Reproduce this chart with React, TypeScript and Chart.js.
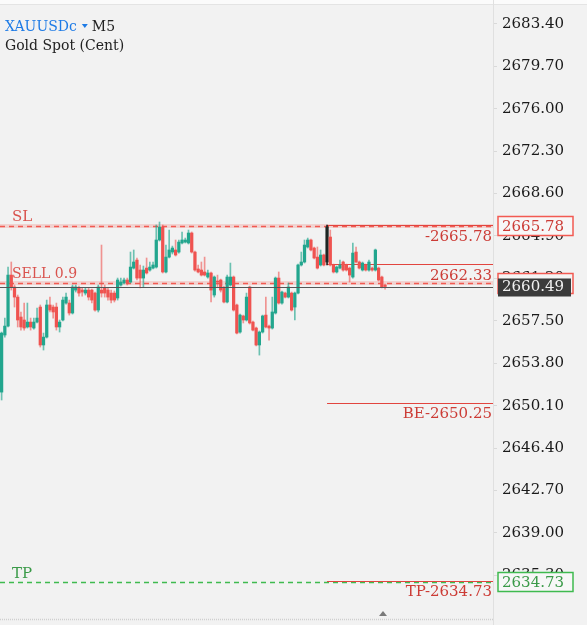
import React, { useEffect, useRef } from "react";
import { Chart, registerables } from "chart.js";
Chart.register(...registerables);

// ---- data ----
const SYMBOL = "XAUUSDc";
const TIMEFRAME = "M5";
const DESCRIPTION = "Gold Spot (Cent)";

const opens = [
  2651.28, 2656.26, 2657.04, 2661.49, 2660.45, 2659.57, 2657.83, 2657.57, 2656.96, 2657.39,
  2656.87, 2657.39, 2658.70, 2655.39, 2656.08, 2658.88, 2658.70, 2658.70, 2656.96, 2657.57,
  2659.05, 2659.05, 2658.18, 2660.18, 2660.36, 2660.18, 2659.92, 2660.18, 2660.18, 2659.92,
  2658.44, 2660.18, 2660.36, 2660.18, 2659.92, 2659.92, 2659.49, 2660.62, 2660.80, 2661.06,
  2660.88, 2662.10, 2662.80, 2661.93, 2661.23, 2662.10, 2661.93, 2662.10, 2662.19, 2664.55,
  2665.68, 2661.76, 2663.06, 2663.50, 2663.68, 2663.50, 2664.29, 2664.37, 2664.29, 2665.16,
  2663.50, 2662.02, 2661.93, 2661.76, 2661.32, 2661.67, 2659.75, 2660.97, 2661.06, 2660.36,
  2659.14, 2660.62, 2661.32, 2658.88, 2656.52, 2657.92, 2657.57, 2660.45, 2657.39, 2656.87,
  2655.39, 2656.52, 2658.00, 2657.04, 2656.87, 2658.18, 2661.23, 2659.05, 2659.92, 2659.57,
  2659.92, 2658.70, 2659.92, 2662.37, 2662.63, 2663.94, 2664.55, 2663.85, 2663.06, 2662.37,
  2663.24, 2662.63, 2664.81, 2662.37, 2661.76, 2662.10, 2662.63, 2662.37, 2662.10,
  2661.32, 2663.50, 2662.63, 2661.93, 2662.37, 2661.93, 2662.10, 2661.93, 2662.10,
  2661.32, 2660.62,
];
const closes = [
  2656.43, 2657.04, 2661.49, 2660.45, 2659.57, 2657.57, 2656.96, 2656.87, 2657.39, 2656.96,
  2657.39, 2657.74, 2655.39, 2656.08, 2658.88, 2658.44, 2658.27, 2656.96, 2657.39, 2659.31,
  2659.57, 2658.18, 2660.45, 2660.45, 2659.92, 2660.01, 2660.18, 2659.57, 2659.31, 2658.44,
  2660.45, 2659.92, 2659.92, 2659.57, 2659.31, 2659.31, 2661.06, 2660.88, 2661.06, 2660.80,
  2662.19, 2662.63, 2661.23, 2661.23, 2661.93, 2661.67, 2662.19, 2662.37, 2664.55, 2665.68,
  2661.76, 2663.06, 2663.68, 2663.85, 2663.24, 2664.37, 2664.55, 2664.55, 2665.16, 2663.50,
  2661.93, 2661.76, 2661.49, 2661.49, 2661.67, 2660.18, 2661.32, 2660.88, 2660.18, 2659.14,
  2661.32, 2661.32, 2658.44, 2656.43, 2658.00, 2657.57, 2659.57, 2657.31, 2656.69, 2655.39,
  2656.52, 2657.92, 2656.96, 2656.87, 2658.27, 2661.23, 2659.05, 2660.01, 2659.57, 2660.45,
  2658.44, 2659.92, 2662.37, 2662.63, 2664.11, 2664.55, 2663.68, 2662.98, 2662.10, 2663.24,
  2662.37, 2665.68, 2662.37, 2661.76, 2662.19, 2662.37, 2661.93, 2661.93, 2661.49,
  2663.41, 2662.63, 2662.10, 2662.54, 2661.93, 2662.63, 2661.93, 2663.68, 2661.06,
  2660.45, 2660.49,
];
const highs = [
  2656.52, 2657.74, 2662.19, 2662.63, 2660.62, 2659.75, 2658.27, 2659.05, 2659.05, 2657.74,
  2657.74, 2658.61, 2658.88, 2656.43, 2659.31, 2659.57, 2658.88, 2659.05, 2657.57, 2659.57,
  2659.92, 2659.31, 2660.62, 2660.62, 2660.53, 2660.36, 2660.36, 2660.36, 2660.27, 2660.01,
  2660.62, 2664.11, 2660.62, 2660.36, 2660.18, 2660.10, 2661.23, 2661.23, 2661.23, 2661.23,
  2663.50, 2663.68, 2662.98, 2662.37, 2662.28, 2662.98, 2662.63, 2662.63, 2665.86, 2666.12,
  2665.86, 2664.11, 2665.42, 2664.02, 2664.55, 2664.55, 2665.25, 2664.72, 2665.42, 2665.25,
  2663.59, 2662.37, 2662.63, 2663.06, 2661.93, 2661.76, 2661.41, 2661.49, 2661.14, 2660.53,
  2661.49, 2662.54, 2661.41, 2658.96, 2658.09, 2658.00, 2659.92, 2660.53, 2657.48, 2656.96,
  2656.61, 2658.00, 2659.57, 2657.13, 2659.57, 2661.32, 2661.76, 2660.10, 2660.01, 2660.80,
  2660.01, 2660.01, 2662.45, 2663.50, 2664.55, 2664.72, 2664.63, 2663.94, 2663.94, 2663.68,
  2663.33, 2665.86, 2665.42, 2662.45, 2662.28, 2662.80, 2662.72, 2662.45, 2662.19,
  2664.29, 2663.94, 2662.72, 2662.63, 2662.45, 2662.80, 2662.19, 2663.76, 2662.19,
  2661.41, 2660.71,
];
const lows = [
  2650.59, 2656.08, 2656.96, 2660.18, 2658.70, 2656.96, 2656.69, 2656.69, 2656.87, 2656.69,
  2656.78, 2657.31, 2655.21, 2654.95, 2656.00, 2658.27, 2657.74, 2656.69, 2656.52, 2657.48,
  2658.96, 2658.00, 2658.09, 2660.01, 2659.66, 2659.66, 2659.75, 2659.31, 2659.05, 2658.35,
  2658.27, 2659.57, 2659.57, 2659.31, 2659.05, 2659.14, 2659.31, 2660.53, 2660.71, 2660.62,
  2660.80, 2662.02, 2661.06, 2660.36, 2660.45, 2661.58, 2661.84, 2662.02, 2662.10, 2664.46,
  2661.67, 2661.67, 2662.98, 2663.33, 2663.15, 2663.41, 2664.20, 2664.29, 2664.20, 2663.41,
  2661.84, 2661.67, 2661.41, 2661.41, 2661.23, 2659.14, 2659.57, 2660.45, 2660.01, 2659.05,
  2659.05, 2660.53, 2658.35, 2656.35, 2656.43, 2657.31, 2657.48, 2657.22, 2656.61, 2655.30,
  2654.51, 2656.43, 2656.87, 2655.82, 2656.78, 2658.09, 2658.96, 2658.96, 2659.49, 2659.49,
  2658.35, 2657.57, 2659.84, 2662.28, 2662.54, 2663.85, 2663.59, 2662.89, 2662.02, 2662.28,
  2662.28, 2662.37, 2662.28, 2661.67, 2661.67, 2662.02, 2661.84, 2661.84, 2660.88,
  2661.23, 2662.54, 2662.02, 2661.84, 2661.84, 2661.84, 2661.84, 2661.84, 2660.97,
  2660.36, 2660.27,
];

// total bar slots on the time axis (candles + empty space on the right)
const SLOT_COUNT = 153;
const slotLabels = Array.from({ length: SLOT_COUNT }, (_, i) => String(i));

const yTicks = [
  2683.4, 2679.7, 2676.0, 2672.3, 2668.6, 2664.9, 2661.2, 2657.5, 2653.8,
  2650.1, 2646.4, 2642.7, 2639.0, 2635.3,
];
const Y_MIN = 2630.96;
const Y_MAX = 2685.49;

// trade levels
const TRADE_INDEX = 101; // candle where the position was opened (highlighted)
const SL = 2665.78;
const ENTRY = 2660.8;
const BID = 2660.49;
const PENDING = 2662.33;
const BE = 2650.25;
const TP = 2634.73;
const ENTRY_LABEL = "SELL 0.9";

// ---- styles ----
const BULL = "#22a68e";
const BEAR = "#ef5350";
const BULL_WICK = "rgba(34,166,142,0.65)";
const BEAR_WICK = "rgba(239,83,80,0.6)";
const DARK = "#1d2624";
const RED_LINE = "#f25a52";
const RED_TEXT = "#cc3c36";
const GREEN_LINE = "#3fba4f";
const GREEN_TEXT = "#3a9a48";
const SERIF = "'DejaVu Serif', serif";

const levelsPlugin = {
  id: "levels",
  beforeDraw(chart: any) {
    const { ctx, width, height } = chart;
    ctx.save();
    ctx.fillStyle = "#f2f2f2";
    ctx.fillRect(0, 0, width, height);
    ctx.fillStyle = "#fbfbfb";
    ctx.fillRect(0, 0, width, 4);
    ctx.fillStyle = "#e4e4e4";
    ctx.fillRect(0, 4, width, 1);
    ctx.restore();
  },
  beforeDatasetsDraw(chart: any) {
    const { ctx, chartArea, scales } = chart;
    const ys = scales.y;
    const xs = scales.x;
    const L = chartArea.left;
    const R = chartArea.right;
    const xt = xs.getPixelForValue(TRADE_INDEX);
    ctx.save();
    const band = (v: number, color: string) => {
      const y = Math.round(ys.getPixelForValue(v));
      ctx.fillStyle = color;
      ctx.fillRect(L, y - 2, R - L, 4);
    };
    const dashed = (v: number, color: string) => {
      const y = Math.round(ys.getPixelForValue(v)) + 0.5;
      ctx.strokeStyle = color;
      ctx.lineWidth = 1.5;
      ctx.setLineDash([5, 4]);
      ctx.beginPath();
      ctx.moveTo(L, y);
      ctx.lineTo(R, y);
      ctx.stroke();
      ctx.setLineDash([]);
    };
    band(SL, "rgba(242,90,82,0.2)");
    dashed(SL, RED_LINE);
    band(ENTRY, "rgba(242,90,82,0.2)");
    dashed(ENTRY, RED_LINE);
    dashed(TP, GREEN_LINE);
    ctx.strokeStyle = "#e2453f";
    ctx.lineWidth = 1;
    [SL, PENDING, BE, TP].forEach((v) => {
      const y = Math.round(ys.getPixelForValue(v)) - 0.5;
      ctx.beginPath();
      ctx.moveTo(xt, y);
      ctx.lineTo(R, y);
      ctx.stroke();
    });
    ctx.restore();
  },
  afterDatasetsDraw(chart: any) {
    const { ctx, chartArea, scales } = chart;
    const y = Math.round(scales.y.getPixelForValue(BID)) + 0.5;
    ctx.save();
    ctx.strokeStyle = "#555555";
    ctx.lineWidth = 1;
    ctx.beginPath();
    ctx.moveTo(chartArea.left, y);
    ctx.lineTo(chartArea.right, y);
    ctx.stroke();
    ctx.restore();
  },
  afterDraw(chart: any) {
    const { ctx, chartArea, scales } = chart;
    const ys = scales.y;
    const R = chartArea.right;
    const py = (v: number) => ys.getPixelForValue(v);
    ctx.save();

    // left labels
    ctx.textBaseline = "alphabetic";
    ctx.textAlign = "left";
    ctx.font = `15px ${SERIF}`;
    ctx.fillStyle = "#d9534e";
    ctx.fillText("SL", 12, py(SL) - 5);
    ctx.font = `14px ${SERIF}`;
    ctx.fillText(ENTRY_LABEL, 12, py(ENTRY) - 5);
    ctx.font = `15px ${SERIF}`;
    ctx.fillStyle = GREEN_TEXT;
    ctx.fillText("TP", 12, py(TP) - 4);

    // right-aligned labels under trade lines
    ctx.textAlign = "right";
    ctx.fillStyle = RED_TEXT;
    ctx.font = `15px ${SERIF}`;
    ctx.fillText("-" + SL.toFixed(2), R - 1, py(SL) + 15);
    ctx.fillText(PENDING.toFixed(2), R - 1, py(PENDING) + 15);
    ctx.fillText("BE-" + BE.toFixed(2), R - 1, py(BE) + 14);
    ctx.fillText("TP-" + TP.toFixed(2), R - 1, py(TP) + 14);

    // price boxes on the axis
    const box = (v: number, h: number, w: number, fill: string, stroke: string | null, text: string | null, color: string) => {
      const yc = py(v);
      const top = Math.round(yc - h / 2) + 0.5;
      ctx.fillStyle = fill;
      ctx.fillRect(R + 5, top, w, h);
      if (stroke) {
        ctx.strokeStyle = stroke;
        ctx.lineWidth = 1.5;
        ctx.strokeRect(R + 5, top, w, h);
      }
      if (text) {
        ctx.fillStyle = color;
        ctx.textAlign = "left";
        ctx.textBaseline = "middle";
        ctx.font = `15px ${SERIF}`;
        ctx.fillText(text, R + 9, yc + 1);
      }
    };
    box(SL, 19, 75, "#f7f7f7", RED_LINE, SL.toFixed(2), RED_TEXT);
    box(ENTRY, 20, 75, "#f4f4f4", RED_LINE, null, RED_TEXT);
    box(BID, 18, 73, "#3b3b3b", null, BID.toFixed(2), "#f0f0f0");
    box(TP, 19, 75, "#f7f7f7", GREEN_LINE, TP.toFixed(2), GREEN_TEXT);

    // symbol legend
    ctx.textAlign = "left";
    ctx.textBaseline = "alphabetic";
    ctx.font = `14px ${SERIF}`;
    ctx.fillStyle = "#1e7be6";
    ctx.fillText(SYMBOL, 5, 31);
    const w = ctx.measureText(SYMBOL).width;
    ctx.beginPath();
    ctx.moveTo(5 + w + 5, 24);
    ctx.lineTo(5 + w + 11, 24);
    ctx.lineTo(5 + w + 8, 28);
    ctx.closePath();
    ctx.fill();
    ctx.fillStyle = "#222";
    ctx.fillText(TIMEFRAME, 5 + w + 15, 31);
    ctx.fillText(DESCRIPTION, 5, 50);

    // bottom separator and scroll marker
    ctx.strokeStyle = "#cfcfcf";
    ctx.setLineDash([1, 1]);
    ctx.beginPath();
    ctx.moveTo(0, 619.5);
    ctx.lineTo(R, 619.5);
    ctx.stroke();
    ctx.setLineDash([]);
    ctx.fillStyle = "#7a7a7a";
    ctx.beginPath();
    ctx.moveTo(379, 616);
    ctx.lineTo(387, 616);
    ctx.lineTo(383, 611);
    ctx.closePath();
    ctx.fill();
    ctx.restore();
  },
};

export default function App() {
  const ref = useRef<HTMLCanvasElement>(null);
  useEffect(() => {
    const canvas = ref.current;
    if (!canvas) return;
    const bodyColors = opens.map((o, i) =>
      i === TRADE_INDEX ? DARK : closes[i] >= o ? BULL : BEAR
    );
    const wickColors = opens.map((o, i) =>
      i === TRADE_INDEX ? DARK : closes[i] >= o ? BULL_WICK : BEAR_WICK
    );
    const chart = new Chart(canvas, {
      type: "bar",
      data: {
        labels: slotLabels,
        datasets: [
          {
            label: "wick",
            data: lows.map((l, i) => [l, highs[i]]) as any,
            backgroundColor: wickColors,
            barThickness: 1,
            grouped: false,
            order: 2,
          } as any,
          {
            label: "body",
            data: opens.map((o, i) => [o, closes[i]]) as any,
            backgroundColor: bodyColors,
            barThickness: 2.6,
            minBarLength: 1,
            grouped: false,
            order: 1,
          } as any,
        ],
      },
      options: {
        responsive: true,
        maintainAspectRatio: false,
        animation: false,
        layout: { padding: 0 },
        plugins: { legend: { display: false }, tooltip: { enabled: false } },
        scales: {
          x: { display: false, offset: true, grid: { display: false } },
          y: {
            position: "right",
            min: Y_MIN,
            max: Y_MAX,
            afterFit: (s: any) => {
              s.width = 94;
              s.paddingTop = 0;
              s.paddingBottom = 0;
            },
            afterBuildTicks: (s: any) => {
              s.ticks = yTicks.map((v) => ({ value: v }));
            },
            ticks: {
              autoSkip: false,
              padding: 5,
              color: "#1a1a1a",
              font: { family: "DejaVu Serif", size: 15 },
              callback: (v: any) => Number(v).toFixed(2),
            },
            grid: { drawOnChartArea: false, drawTicks: true, tickLength: 4, color: "#d9d9d9" },
            border: { display: true, color: "#e0e0e0" },
          } as any,
        },
      },
      plugins: [levelsPlugin],
    });
    return () => chart.destroy();
  }, []);
  return (
    <div style={{ position: "absolute", left: 0, top: 0, width: 587, height: 625, background: "#f2f2f2" }}>
      <canvas ref={ref} />
    </div>
  );
}
